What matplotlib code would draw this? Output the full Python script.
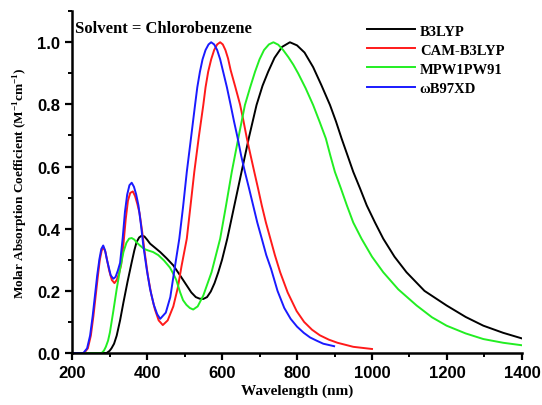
import matplotlib
matplotlib.use("Agg")
import matplotlib.pyplot as plt
from matplotlib.ticker import MultipleLocator

plt.rcParams["mathtext.fontset"] = "custom"
plt.rcParams["mathtext.bf"] = "Liberation Serif:bold"
plt.rcParams["mathtext.rm"] = "Liberation Serif:bold"

# ---- data ----
wl_b3lyp = [200, 292, 300, 305, 312, 319, 328, 337, 348, 359, 366, 372, 379, 386, 393, 400, 408, 420, 435,
            452, 470, 488, 506, 518, 530, 540, 550, 560, 570, 580, 590, 600, 614, 632, 652, 672, 692, 708,
            723, 740, 760, 781, 800, 820, 843, 865, 888, 904, 919, 935, 950, 968, 986, 1008, 1030, 1060,
            1092, 1140, 1199, 1250, 1297, 1350, 1400]
ab_b3lyp = [0, 0, 0.007, 0.015, 0.03, 0.056, 0.105, 0.163, 0.23, 0.292, 0.33, 0.357, 0.372, 0.378, 0.375, 0.365, 0.352, 0.34, 0.325,
            0.305, 0.282, 0.25, 0.217, 0.195, 0.18, 0.175, 0.174, 0.18, 0.198, 0.225, 0.26, 0.30, 0.368, 0.47, 0.583, 0.695, 0.798, 0.86,
            0.905, 0.95, 0.985, 1.0, 0.99, 0.967, 0.92, 0.862, 0.798, 0.745, 0.69, 0.635, 0.583, 0.53, 0.475, 0.42, 0.368, 0.31,
            0.26, 0.20, 0.153, 0.116, 0.088, 0.065, 0.047]

wl_cam = [200, 232, 242, 250, 257, 263, 269, 274, 279, 284, 289, 294, 299, 306, 313, 319, 325, 331, 337, 343, 349, 355,
          362, 368, 374, 380, 387, 393, 402, 411, 421, 431, 442, 455, 470, 482, 492, 506, 516, 526, 538, 550, 556,
          563, 571, 579, 587, 595, 602, 609, 616, 623, 635, 648, 657, 666, 676, 686, 696, 706, 717, 728, 741, 755,
          775, 799, 819, 840, 861, 885, 908, 950, 1000]
ab_cam = [0, 0, 0.015, 0.056, 0.12, 0.185, 0.25, 0.30, 0.33, 0.34, 0.325, 0.295, 0.265, 0.235, 0.225, 0.235, 0.255, 0.285, 0.35, 0.43, 0.49, 0.515,
          0.52, 0.505, 0.48, 0.45, 0.39, 0.33, 0.25, 0.19, 0.14, 0.105, 0.09, 0.105, 0.15, 0.21, 0.28, 0.368, 0.475, 0.583, 0.695, 0.798, 0.855,
          0.905, 0.945, 0.975, 0.993, 1.0, 0.993, 0.975, 0.948, 0.91, 0.858, 0.80, 0.748, 0.692, 0.637, 0.583, 0.53, 0.475, 0.42, 0.372, 0.315, 0.26,
          0.195, 0.135, 0.10, 0.075, 0.057, 0.043, 0.033, 0.02, 0.013]

wl_mpw = [200, 279, 285, 290, 296, 301, 310, 319, 328, 337, 345, 352, 359, 366, 373, 381, 392, 403, 416, 430, 445,
          461, 470, 478, 488, 496, 505, 514, 523, 535, 550, 572, 595, 610, 626, 644, 661, 675, 688, 700, 712, 725,
          737, 750, 763, 777, 790, 803, 823, 843, 860, 877, 889, 901, 917, 933, 950, 972, 1000, 1030, 1070, 1119, 1160,
          1199, 1250, 1297, 1350, 1400]
ab_mpw = [0, 0, 0.008, 0.02, 0.04, 0.067, 0.135, 0.206, 0.27, 0.325, 0.355, 0.368, 0.37, 0.365, 0.355, 0.346, 0.335, 0.33, 0.325, 0.315, 0.298,
          0.275, 0.255, 0.235, 0.196, 0.17, 0.155, 0.145, 0.14, 0.15, 0.185, 0.26, 0.368, 0.47, 0.583, 0.695, 0.798, 0.855, 0.905, 0.945, 0.975, 0.993,
          1.0, 0.992, 0.975, 0.952, 0.928, 0.90, 0.852, 0.798, 0.745, 0.69, 0.635, 0.583, 0.53, 0.475, 0.42, 0.368, 0.31, 0.26, 0.205, 0.153, 0.115,
          0.088, 0.063, 0.045, 0.033, 0.025]

wl_wb97 = [200, 230, 240, 248, 255, 261, 267, 273, 278, 283, 288, 293, 297, 303, 310, 316, 322, 328, 335, 341, 347, 353,
           359, 365, 371, 377, 384, 390, 399, 408, 418, 427, 435, 450, 462, 472, 486, 496, 506, 517, 528, 534, 541,
           548, 556, 564, 571, 579, 587, 595, 603, 613, 623, 632, 642, 651, 661, 672, 683, 694, 706, 718, 731, 748,
           766, 783, 800, 818, 835, 852, 870, 899]
ab_wb97 = [0, 0, 0.015, 0.056, 0.12, 0.185, 0.25, 0.303, 0.335, 0.346, 0.33, 0.30, 0.28, 0.25, 0.239, 0.245, 0.265, 0.29, 0.37, 0.454, 0.51, 0.54,
           0.548, 0.535, 0.51, 0.475, 0.41, 0.346, 0.27, 0.206, 0.155, 0.125, 0.11, 0.13, 0.18, 0.26, 0.368, 0.47, 0.583, 0.69, 0.798, 0.855, 0.905,
           0.945, 0.975, 0.993, 1.0, 0.993, 0.975, 0.945, 0.905, 0.855, 0.798, 0.745, 0.69, 0.635, 0.583, 0.53, 0.475, 0.42, 0.368, 0.315, 0.27, 0.20,
           0.145, 0.11, 0.085, 0.065, 0.05, 0.04, 0.03, 0.022]

labels = ["B3LYP", "CAM-B3LYP", "MPW1PW91", "\u03c9B97XD"]
colors = ["#000000", "#ff1a1a", "#22ee22", "#1a1aff"]

x_ticks = [200, 400, 600, 800, 1000, 1200, 1400]
y_ticks = [0.0, 0.2, 0.4, 0.6, 0.8, 1.0]

# ---- plot ----
fig = plt.figure(figsize=(5.42, 4.06), dpi=100)
ax = fig.add_axes([0.133, 0.128, 0.830, 0.842])

series = [(wl_b3lyp, ab_b3lyp), (wl_cam, ab_cam), (wl_mpw, ab_mpw), (wl_wb97, ab_wb97)]
for (x, y), lab, c in zip(series, labels, colors):
    ax.plot(x, y, color=c, lw=1.4, label=lab, solid_joinstyle="round")

ax.set_xlim(200, 1400)
ax.set_ylim(0, 1.1)
ax.set_xticks(x_ticks)
ax.set_yticks(y_ticks)
ax.set_yticklabels([f"{v:.1f}" for v in y_ticks])
ax.xaxis.set_minor_locator(MultipleLocator(100))
ax.yaxis.set_minor_locator(MultipleLocator(0.1))

for s in ["top", "right"]:
    ax.spines[s].set_visible(False)
for s in ["left", "bottom"]:
    ax.spines[s].set_linewidth(1.8)

ax.tick_params(which="major", direction="out", length=5, width=1.6, labelsize=12)
ax.tick_params(which="minor", direction="out", length=3, width=1.4)
for lbl in ax.get_xticklabels() + ax.get_yticklabels():
    lbl.set_fontfamily("Liberation Sans")
    lbl.set_fontweight("bold")

serif = {"family": "Liberation Serif", "weight": "bold"}
ax.set_xlabel("Wavelength (nm)", fontdict=dict(serif, size=11), labelpad=3)
ax.set_ylabel(r"Molar Absorption Coefficient (M$^{\mathbf{-1}}$cm$^{\mathbf{-1}}$)",
              fontdict=dict(serif, size=9.5), labelpad=5)

ax.text(0.006, 0.975, "Solvent = Chlorobenzene", transform=ax.transAxes,
        ha="left", va="top", fontdict=dict(serif, size=12))

leg = ax.legend(loc="upper right", bbox_to_anchor=(0.99, 1.0), frameon=False,
                prop={"family": "Liberation Serif", "weight": "bold", "size": 10.5},
                handlelength=3.3, handletextpad=0.3, labelspacing=0.4)

fig.savefig("out.png", dpi=100)
